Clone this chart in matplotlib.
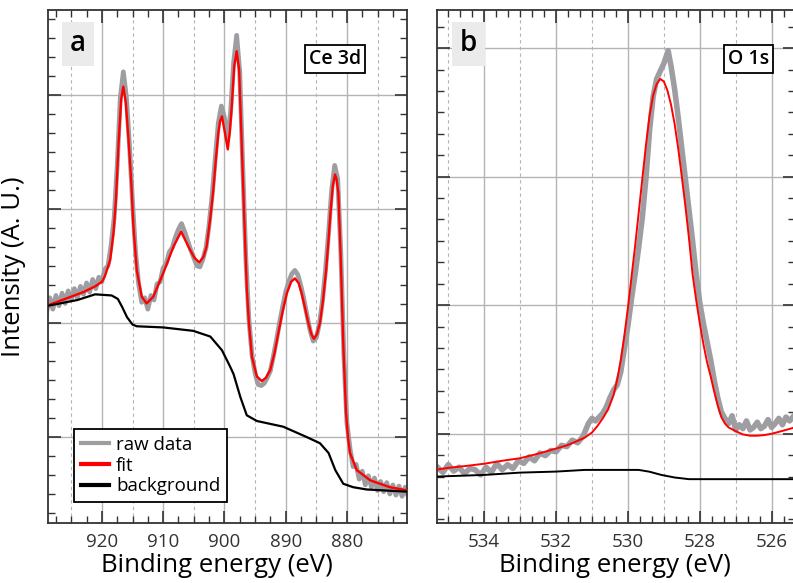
import matplotlib
matplotlib.use("Agg")
import matplotlib.pyplot as plt
from matplotlib.ticker import MultipleLocator, NullFormatter

plt.rcParams['font.family'] = ['Open Sans', 'DejaVu Sans']

# ---- Ce 3d data (binding energy in eV, intensity in arbitrary units) ----
ce_raw_e = [929.0, 928.5, 928.0, 927.5, 927.0, 926.5, 926.0, 925.5, 925.0, 924.5,
            924.0, 923.5, 923.0, 922.5, 922.0, 921.5, 921.0, 920.5, 920.0, 919.5,
            919.0, 918.5, 918.0, 917.5, 917.0, 916.5, 916.0, 915.5, 915.0, 914.5,
            914.0, 913.5, 913.0, 912.5, 912.0, 911.5, 911.0, 910.5, 910.0, 909.5,
            909.0, 908.5, 908.0, 907.5, 907.0, 906.5, 906.0, 905.5, 905.0, 904.5,
            904.0, 903.5, 903.0, 902.5, 902.0, 901.5, 901.0, 900.5, 900.0, 899.5,
            899.0, 898.5, 898.0, 897.5, 897.0, 896.5, 896.0, 895.5, 895.0, 894.5,
            894.0, 893.5, 893.0, 892.5, 892.0, 891.5, 891.0, 890.5, 890.0, 889.5,
            889.0, 888.5, 888.0, 887.5, 887.0, 886.5, 886.0, 885.5, 885.0, 884.5,
            884.0, 883.5, 883.0, 882.5, 882.0, 881.5, 881.0, 880.5, 880.0, 879.5,
            879.0, 878.5, 878.0, 877.5, 877.0, 876.5, 876.0, 875.5, 875.0, 874.5,
            874.0, 873.5, 873.0, 872.5, 872.0, 871.5, 871.0, 870.5, 870.0]
ce_raw_i = [2.10, 2.22, 2.12, 2.24, 2.15, 2.26, 2.17, 2.28, 2.20, 2.30,
            2.22, 2.32, 2.25, 2.35, 2.27, 2.38, 2.30, 2.40, 2.36, 2.47,
            2.50, 2.68, 2.92, 3.38, 3.97, 4.20, 3.98, 3.56, 3.06, 2.62,
            2.34, 2.18, 2.22, 2.12, 2.24, 2.20, 2.34, 2.36, 2.48, 2.52,
            2.62, 2.66, 2.75, 2.82, 2.87, 2.80, 2.72, 2.64, 2.57, 2.50,
            2.49, 2.56, 2.66, 2.86, 3.12, 3.44, 3.75, 3.90, 3.80, 3.60,
            3.84, 4.28, 4.52, 4.20, 3.36, 2.56, 2.03, 1.72, 1.56, 1.46,
            1.45, 1.47, 1.52, 1.58, 1.71, 1.85, 2.00, 2.14, 2.27, 2.36,
            2.43, 2.46, 2.42, 2.32, 2.20, 2.06, 1.93, 1.84, 1.87, 1.99,
            2.19, 2.46, 2.79, 3.16, 3.38, 3.26, 2.62, 1.72, 1.12, 0.90,
            0.74, 0.76, 0.63, 0.70, 0.58, 0.66, 0.56, 0.64, 0.53, 0.61,
            0.52, 0.60, 0.50, 0.58, 0.49, 0.57, 0.48, 0.56, 0.48]

ce_fit_e = [929.0, 927.0, 925.0, 923.0, 921.1, 920.0, 919.5, 918.65, 918.1, 917.7,
            917.3, 916.85, 916.5, 916.1, 915.66, 915.2, 914.85, 914.3, 913.5, 912.7,
            911.6, 909.95, 908.3, 907.06, 905.9, 904.9, 904.1, 903.4, 902.9, 902.3,
            901.8, 901.4, 901.0, 900.7, 900.4, 899.9, 899.45, 899.1, 898.8, 898.4,
            898.0, 897.6, 897.2, 896.8, 896.35, 896.0, 895.5, 894.7, 893.9, 893.2,
            892.5, 891.8, 891.2, 890.5, 889.8, 889.1, 888.5, 887.9, 887.4, 886.8,
            886.3, 885.8, 885.4, 884.9, 884.4, 883.9, 883.4, 883.0, 882.65, 882.3,
            881.95, 881.7, 881.4, 881.0, 880.6, 880.15, 879.8, 879.5, 878.4, 876.2,
            873.0, 870.0]
ce_fit_i = [2.15, 2.19, 2.23, 2.27, 2.32, 2.36, 2.41, 2.55, 2.79, 3.08,
            3.55, 3.96, 4.07, 3.93, 3.61, 3.23, 2.84, 2.46, 2.23, 2.17,
            2.23, 2.44, 2.67, 2.80, 2.67, 2.57, 2.53, 2.58, 2.67, 2.92,
            3.17, 3.43, 3.66, 3.77, 3.81, 3.66, 3.52, 3.68, 3.90, 4.25,
            4.38, 4.22, 3.61, 2.98, 2.30, 2.00, 1.70, 1.53, 1.49, 1.52,
            1.59, 1.74, 1.91, 2.10, 2.26, 2.36, 2.39, 2.35, 2.26, 2.12,
            2.00, 1.90, 1.86, 1.90, 2.00, 2.20, 2.46, 2.73, 2.99, 3.20,
            3.30, 3.26, 3.14, 2.55, 1.82, 1.21, 0.98, 0.86, 0.71, 0.62,
            0.56, 0.53]

ce_bg_e = [928.8, 924.0, 921.1, 918.4, 917.4, 916.7, 915.9, 915.0, 914.3, 910.0,
           905.1, 902.3, 900.4, 899.1, 898.5, 897.4, 896.35, 894.7, 890.4, 886.6,
           884.4, 883.0, 881.9, 880.6, 879.0, 876.8, 870.0]
ce_bg_i = [2.15, 2.20, 2.25, 2.24, 2.21, 2.14, 2.05, 1.985, 1.97, 1.96,
           1.93, 1.88, 1.76, 1.62, 1.55, 1.35, 1.19, 1.14, 1.09, 1.00,
           0.945, 0.86, 0.71, 0.59, 0.56, 0.54, 0.52]

# ---- O 1s data ----
o_raw_e = [535.30, 535.15, 535.00, 534.85, 534.70, 534.55, 534.40, 534.25, 534.10, 533.95,
           533.80, 533.65, 533.50, 533.35, 533.20, 533.05, 532.90, 532.75, 532.60, 532.45,
           532.30, 532.15, 532.00, 531.85, 531.70, 531.55, 531.40, 531.25, 531.10, 531.00,
           530.90, 530.80, 530.70, 530.60, 530.50, 530.40, 530.30, 530.20, 530.10, 530.00,
           529.90, 529.80, 529.70, 529.60, 529.50, 529.40, 529.30, 529.20, 529.10, 529.00,
           528.88, 528.80, 528.70, 528.60, 528.50, 528.40, 528.30, 528.20, 528.10, 528.00,
           527.90, 527.80, 527.70, 527.60, 527.50, 527.40, 527.30, 527.20, 527.10, 527.00,
           526.90, 526.80, 526.70, 526.60, 526.50, 526.40, 526.30, 526.20, 526.10, 526.00,
           525.90, 525.80, 525.70, 525.60, 525.50, 525.35]
o_raw_i = [0.74, 0.70, 0.76, 0.71, 0.74, 0.69, 0.73, 0.72, 0.68, 0.74,
           0.70, 0.77, 0.72, 0.76, 0.73, 0.79, 0.77, 0.82, 0.79, 0.85,
           0.83, 0.87, 0.86, 0.91, 0.90, 0.95, 0.93, 0.98, 1.08, 1.12,
           1.10, 1.13, 1.16, 1.21, 1.28, 1.34, 1.38, 1.48, 1.66, 1.84,
           2.05, 2.24, 2.45, 2.68, 2.98, 3.35, 3.62, 3.76, 3.82, 3.88,
           3.98, 3.86, 3.68, 3.46, 3.22, 2.98, 2.74, 2.50, 2.24, 2.02,
           1.86, 1.72, 1.58, 1.42, 1.28, 1.17, 1.12, 1.08, 1.14, 1.03,
           1.07, 1.04, 1.10, 1.03, 1.05, 1.09, 1.04, 1.06, 1.11, 1.05,
           1.08, 1.12, 1.07, 1.13, 1.10, 1.15]

o_fit_e = [535.35, 535.0, 534.5, 534.0, 533.5, 533.0, 532.5, 532.0, 531.7, 531.4,
           531.2, 531.0, 530.85, 530.7, 530.55, 530.4, 530.3, 530.2, 530.1, 530.0,
           529.9, 529.8, 529.7, 529.6, 529.5, 529.4, 529.3, 529.2, 529.1, 529.0,
           528.9, 528.8, 528.7, 528.6, 528.5, 528.4, 528.3, 528.2, 528.1, 528.0,
           527.9, 527.8, 527.7, 527.6, 527.5, 527.4, 527.3, 527.2, 527.0, 526.8,
           526.6, 526.4, 526.2, 526.0, 525.8, 525.6, 525.35]
o_fit_i = [0.72, 0.735, 0.75, 0.767, 0.79, 0.81, 0.845, 0.885, 0.91, 0.945,
           0.97, 1.01, 1.06, 1.12, 1.19, 1.30, 1.42, 1.57, 1.76, 1.98,
           2.22, 2.46, 2.72, 2.98, 3.24, 3.47, 3.63, 3.72, 3.76, 3.74,
           3.67, 3.56, 3.41, 3.22, 3.00, 2.77, 2.52, 2.24, 2.04, 1.86,
           1.70, 1.56, 1.45, 1.33, 1.22, 1.13, 1.08, 1.05, 1.02, 0.995,
           0.985, 0.985, 0.99, 1.00, 1.015, 1.03, 1.05]

o_bg_e = [535.35, 534.0, 533.0, 532.0, 531.2, 529.7, 529.4, 529.07, 528.7, 528.3, 525.35]
o_bg_i = [0.667, 0.68, 0.698, 0.706, 0.719, 0.719, 0.705, 0.68, 0.66, 0.647, 0.647]

fig = plt.figure(figsize=(7.93, 5.83), dpi=100)
ax1 = fig.add_axes([0.0605, 0.1029, 0.4527, 0.8808])
ax2 = fig.add_axes([0.5517, 0.1029, 0.4508, 0.8808])

grid_col = '#b4b4b4'
raw_col = '#9e9ea2'


def style_axis(ax, xlim, ylim, xmaj, xmin_grid, xminor, ymaj):
    ax.set_xlim(*xlim)
    ax.set_ylim(*ylim)
    ax.xaxis.set_major_locator(MultipleLocator(xmaj))
    ax.xaxis.set_minor_locator(MultipleLocator(xminor))
    ax.yaxis.set_major_locator(MultipleLocator(ymaj))
    ax.yaxis.set_minor_locator(MultipleLocator(ymaj / 6))
    ax.yaxis.set_major_formatter(NullFormatter())
    ax.set_axisbelow(True)
    ax.grid(True, which='major', color=grid_col, lw=1.0)
    # dashed half-way grid lines
    lo, hi = min(xlim), max(xlim)
    v = xmin_grid
    while v > lo:
        if v < hi:
            ax.axvline(v, color=grid_col, lw=0.8, ls=(0, (3, 3)), zorder=0)
        v -= xmaj
    ax.tick_params(which='both', direction='in', top=True, right=True,
                   colors='#333333', labelsize=13.5, pad=7)
    ax.tick_params(which='major', length=9, width=1.2)
    ax.tick_params(which='minor', length=5, width=1.0)
    for s in ax.spines.values():
        s.set_color('#333333')
        s.set_linewidth(1.3)
    ax.set_xlabel('Binding energy (eV)', fontsize=18.5)


# ---- panel a ----
ax1.plot(ce_raw_e, ce_raw_i, color=raw_col, lw=3.4, label='raw data', zorder=2)
ax1.plot(ce_fit_e, ce_fit_i, color='#ff0000', lw=1.7, label='fit', zorder=3)
ax1.plot(ce_bg_e, ce_bg_i, color='black', lw=1.6, label='background', zorder=3)
style_axis(ax1, (928.8, 870.2), (0.246, 4.746), 10, 925, 2.5, 1)
ax1.xaxis.set_label_coords(0.472, -0.058)
ax1.set_ylabel('Intensity (A. U.)', fontsize=18.5)
ax1.yaxis.set_label_coords(-0.062, 0.5)
ax1.text(0.0836, 0.933, 'a', transform=ax1.transAxes, fontsize=20, fontweight='semibold',
         va='center', ha='center',
         bbox=dict(boxstyle='square,pad=0.28', fc='#ebebeb', ec='none'))
ax1.text(0.799, 0.904, 'Ce 3d', transform=ax1.transAxes, fontsize=14, fontweight='semibold',
         va='center', ha='center',
         bbox=dict(boxstyle='square,pad=0.2', fc='white', ec='black', lw=1.3))
leg = ax1.legend(loc='lower left', bbox_to_anchor=(0.0724, 0.041), fontsize=13.5,
                 frameon=True, fancybox=False, edgecolor='black', framealpha=1,
                 handlelength=1.5, handletextpad=0.4, labelspacing=0.15, borderpad=0.35,
                 borderaxespad=0)
leg.get_frame().set_linewidth(1.3)
for line in leg.get_lines():
    line.set_linewidth(3)

# ---- panel b ----
ax2.plot(o_raw_e, o_raw_i, color=raw_col, lw=4.0, zorder=2)
ax2.plot(o_fit_e, o_fit_i, color='#ff0000', lw=1.4, zorder=3)
ax2.plot(o_bg_e, o_bg_i, color='black', lw=1.4, zorder=3)
style_axis(ax2, (535.3, 525.35), (0.306, 4.30), 2, 535, 1 / 3, 1)
ax2.xaxis.set_label_coords(0.495, -0.058)
ax2.text(0.0867, 0.933, 'b', transform=ax2.transAxes, fontsize=20, fontweight='semibold',
         va='center', ha='center',
         bbox=dict(boxstyle='square,pad=0.28', fc='#ebebeb', ec='none'))
ax2.text(0.871, 0.904, 'O 1s', transform=ax2.transAxes, fontsize=14, fontweight='semibold',
         va='center', ha='center',
         bbox=dict(boxstyle='square,pad=0.2', fc='white', ec='black', lw=1.3))

fig.savefig('out.png', dpi=100)
